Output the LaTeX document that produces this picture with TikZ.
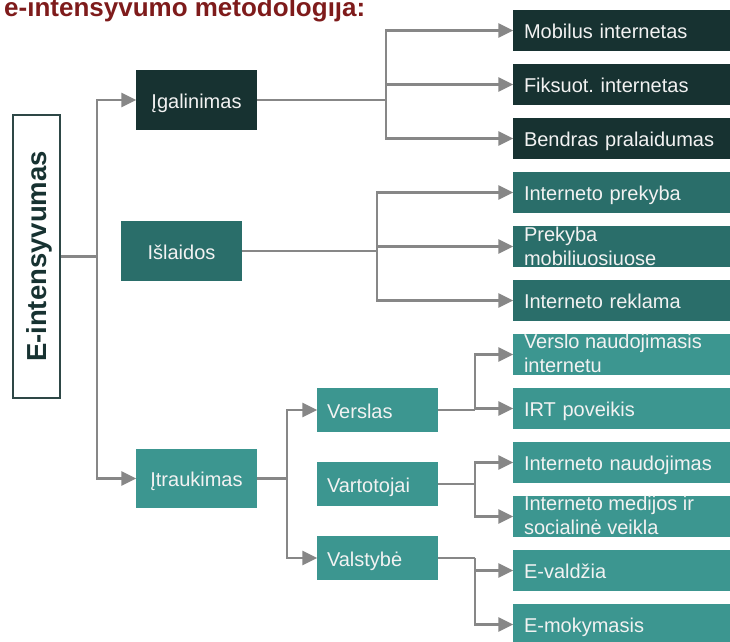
\documentclass[tikz,border=0pt]{standalone}
\usepackage{fontspec}
\setmainfont{Liberation Sans}
\usetikzlibrary{arrows.meta}
\frenchspacing

\definecolor{darkbox}{HTML}{173231}
\definecolor{midbox}{HTML}{2A6E6A}
\definecolor{lightbox}{HTML}{3C9690}
\definecolor{boxtext}{HTML}{F2F2F2}
\definecolor{linkgray}{HTML}{878787}
\definecolor{titlered}{HTML}{7E1B1B}

\tikzset{
  box/.style={rectangle, inner ysep=0pt, text=boxtext, font=\fontsize{20}{24}\selectfont,
    text height=16pt, text depth=0pt},
  mainbox/.style={box, minimum width=121pt, minimum height=60pt},
  subbox/.style={box, minimum width=121pt, minimum height=44pt, inner xsep=10pt,
    text width=101pt, align=left},
  leaf/.style={box, minimum width=217pt, minimum height=41pt, inner xsep=11pt,
    text width=195pt, align=left},
  leaftext/.style={anchor=base west, inner sep=0pt, align=left, text=boxtext,
    font=\fontsize{20}{24}\selectfont},
  link/.style={draw=linkgray, line width=2.6pt},
  arrow/.style={link, -{Triangle[length=15pt,width=14pt]}, shorten >=-0.5pt}
}

\begin{document}
\begin{tikzpicture}[x=1pt, y=-1pt]
  \useasboundingbox (0,0) rectangle (730,641);

  \node [anchor=base west, inner sep=0pt, text=titlered, font=\fontsize{26}{30}\selectfont\bfseries]
    (title) at (4,16.5) {e-intensyvumo metodologija:};

  % root
  \node [draw=darkbox!90, line width=1.8pt, rotate=90, minimum width=283pt, minimum height=47pt,
    inner sep=0pt, text=darkbox, font=\fontsize{27.5}{30}\selectfont\bfseries,
    text height=19.5pt, text depth=0pt] (root) at (36.5,256.5) {E-intensyvumas};

  % first level
  \node [mainbox, fill=darkbox] (igal) at (196.5,100) {Įgalinimas};
  \node [mainbox, fill=midbox] (isla) at (181.5,251) {Išlaidos};
  \node [mainbox, fill=lightbox, minimum height=59pt] (itra) at (196.5,478.5) {Įtraukimas};

  % second level
  \node [subbox, fill=lightbox] (vers) at (377.5,410) {Verslas};
  \node [subbox, fill=lightbox] (vart) at (377.5,484) {Vartotojai};
  \node [subbox, fill=lightbox] (vals) at (377.5,558) {Valstybė};

  % leaves
  \node [leaf, fill=darkbox] (mob) at (621.5,30.5) {Mobilus internetas};
  \node [leaf, fill=darkbox] (fiks) at (621.5,84.5) {Fiksuot. internetas};
  \node [leaf, fill=darkbox] (bend) at (621.5,138.5) {Bendras pralaidumas};
  \node [leaf, fill=midbox] (iprek) at (621.5,192.5) {Interneto prekyba};
  \node [leaf, fill=midbox] (mprek) at (621.5,246.5) {};
  \node [leaf, fill=midbox] (irekl) at (621.5,300.5) {Interneto reklama};
  \node [leaf, fill=lightbox] (vnaud) at (621.5,354.5) {};
  \node [leaf, fill=lightbox] (irt) at (621.5,408.5) {IRT poveikis};
  \node [leaf, fill=lightbox] (inaud) at (621.5,462.5) {Interneto naudojimas};
  \node [leaf, fill=lightbox] (imed) at (621.5,516.5) {};
  \node [leaf, fill=lightbox] (evald) at (621.5,570.5) {E-valdžia};
  \node [leaf, fill=lightbox] (emok) at (621.5,624.5) {E-mokymasis};

  % two-line texts, cut off by their boxes
  \begin{scope}
    \clip (mprek.north west) rectangle (mprek.south east);
    \node [leaftext] (mprek-t) at ([xshift=11pt,yshift=-40pt]mprek.north west) {Prekyba\\mobiliuosiuose};
  \end{scope}
  \begin{scope}
    \clip (vnaud.north west) rectangle (vnaud.south east);
    \node [leaftext] (vnaud-t) at ([xshift=11pt,yshift=-39pt]vnaud.north west) {Verslo naudojimasis\\internetu};
  \end{scope}
  \begin{scope}
    \clip (imed.north west) rectangle (imed.south east);
    \node [leaftext] (imed-t) at ([xshift=11pt,yshift=-39pt]imed.north west) {Interneto medijos ir\\socialinė veikla};
  \end{scope}

  % branch points
  \coordinate (t1) at (97,256.5);
  \coordinate (t2) at (386,100);
  \coordinate (t3) at (377,251);
  \coordinate (t4) at (287,478.5);
  \coordinate (t5) at (475,410);
  \coordinate (t6) at (475,484);
  \coordinate (t7) at (475,558);

  % connectors
  \draw [link] (root) -- (t1);
  \draw [arrow] (t1) |- (igal);
  \draw [arrow] (t1) |- (itra);

  \draw [link] (igal) -- (t2);
  \draw [arrow] (t2) |- (mob);
  \draw [arrow] (t2) |- (fiks);
  \draw [arrow] (t2) |- (bend);

  \draw [link] (isla) -- (t3);
  \draw [arrow] (t3) |- (iprek);
  \draw [arrow] (t3) |- (mprek);
  \draw [arrow] (t3) |- (irekl);

  \draw [link] (itra) -- (t4);
  \draw [arrow] (t4) |- (vers);
  \draw [arrow] (t4) |- (vals);

  \draw [link] (vers) -- (t5);
  \draw [arrow] (t5) |- (vnaud);
  \draw [arrow] (t5) |- (irt);

  \draw [link] (vart) -- (t6);
  \draw [arrow] (t6) |- (inaud);
  \draw [arrow] (t6) |- (imed);

  \draw [link] (vals) -- (t7);
  \draw [arrow] (t7) |- (evald);
  \draw [arrow] (t7) |- (emok);
\end{tikzpicture}
\end{document}
